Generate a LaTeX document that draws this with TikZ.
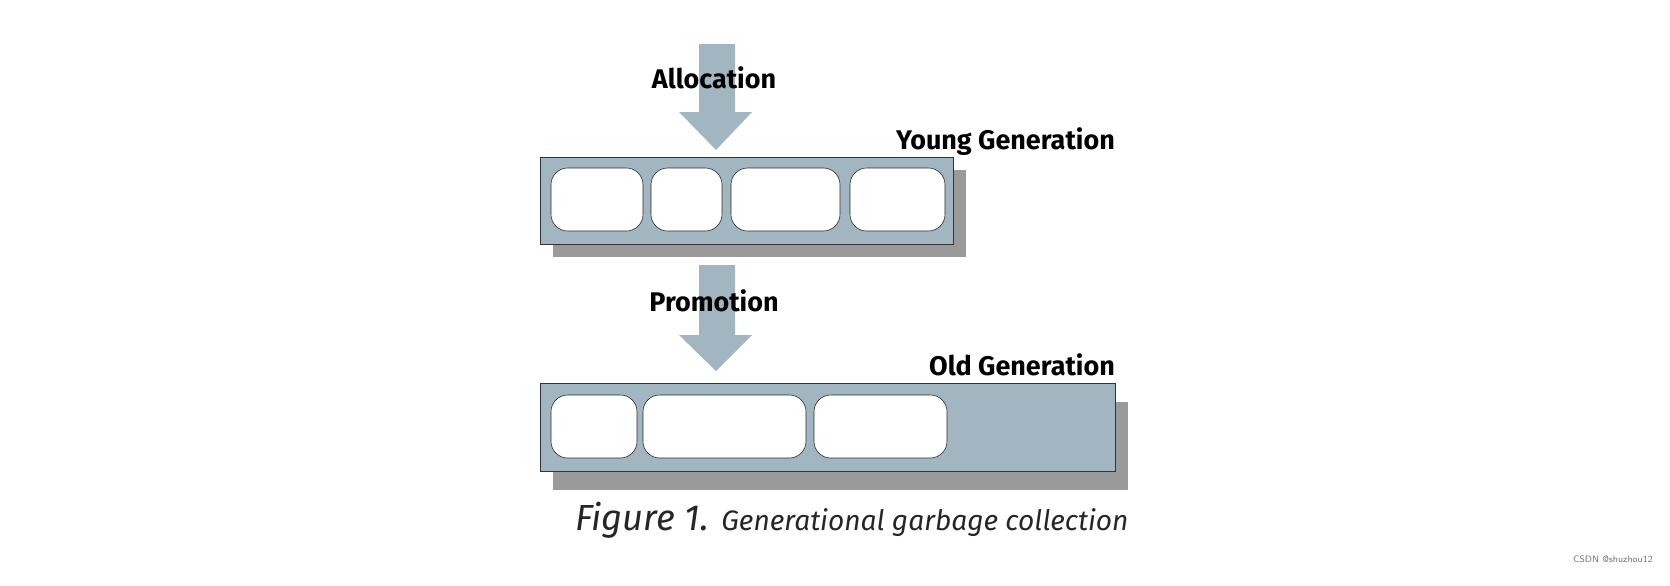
\documentclass[tikz,border=0pt]{standalone}
\usepackage{fontspec}
\setmainfont{Fira Sans}
\begin{document}
\begin{tikzpicture}[x=0.03cm,y=-0.03cm,
  gen/.style={draw=black!80,line width=0.6pt,fill=genfill},
  shadow/.style={fill=shadowgray,draw=none},
  cell/.style={draw=black!85,line width=0.5pt,fill=white,rounded corners=0.5cm},
  arr/.style={fill=genfill,draw=none},
  lbl/.style={font=\fontsize{23}{26}\selectfont\bfseries,inner sep=0pt}]
\definecolor{genfill}{HTML}{A2B6C2}
\definecolor{shadowgray}{HTML}{9A9A9A}
\useasboundingbox (0,0) rectangle (1670,586);
% allocation arrow
\fill[arr] (699,44) -- (735,44) -- (735,112) -- (752,112) -- (716,150) -- (679,112) -- (699,112) -- cycle;
\node[lbl] (alloc) at (714,78) {Allocation};
% young generation
\fill[shadow] (553,170) rectangle (966,257);
\draw[gen] (540,157) rectangle (953,244);
\node[lbl,anchor=base east] (younglbl) at (1115,149) {Young Generation};
\draw[cell] (551,168) rectangle (643,231);
\draw[cell] (651,168) rectangle (722,231);
\draw[cell] (731,168) rectangle (840,231);
\draw[cell] (850,168) rectangle (945,231);
% promotion arrow
\fill[arr] (699,265) -- (735,265) -- (735,335) -- (752,335) -- (716,371) -- (679,335) -- (699,335) -- cycle;
\node[lbl] (promo) at (714,301) {Promotion};
% old generation
\fill[shadow] (553,402) rectangle (1128,490);
\draw[gen] (540,383) rectangle (1115,471);
\node[lbl,anchor=base east] (oldlbl) at (1115,375) {Old Generation};
\draw[cell] (551,395) rectangle (637,458);
\draw[cell] (643,395) rectangle (806,458);
\draw[cell] (814,395) rectangle (947,458);
% caption
\node[anchor=base west,inner sep=0pt,text=black!85] (cap) at (575,530)
  {\fontsize{31}{34}\selectfont\itshape Figure 1. \fontsize{24}{28}\selectfont Generational garbage collection};
\node[anchor=base east,inner sep=0pt,text=black!55,font=\fontsize{8}{10}\selectfont\sffamily] (wm) at (1653,562) {CSDN @shuzhou12};
\end{tikzpicture}
\end{document}
